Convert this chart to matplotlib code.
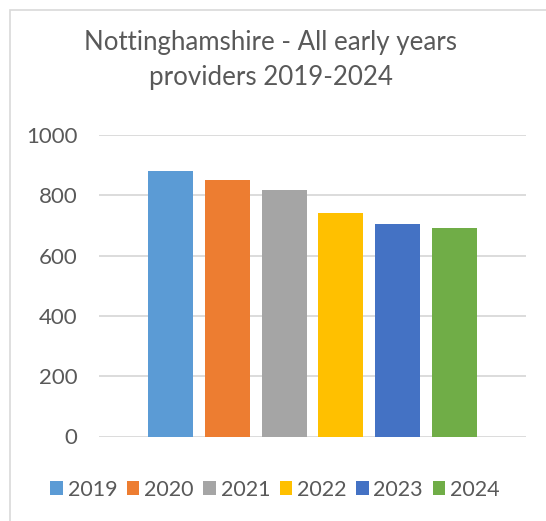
import matplotlib
matplotlib.use("Agg")
import matplotlib.pyplot as plt
from matplotlib.patches import Rectangle

years = ["2019", "2020", "2021", "2022", "2023", "2024"]
values = [881, 851, 818, 741, 705, 692]
colors = ["#5B9BD5", "#ED7D31", "#A5A5A5", "#FFC000", "#4472C4", "#70AD47"]
yticks = [0, 200, 400, 600, 800, 1000]
title = "Nottinghamshire - All early years\nproviders 2019-2024"

plt.rcParams['font.family'] = ['Lato', 'DejaVu Sans']
W, H = 546, 521
fig = plt.figure(figsize=(W / 100, H / 100), dpi=100)
ax = fig.add_axes([99 / W, 1 - 436.5 / H, 427 / W, (436.5 - 135) / H])

for i, (y, v, c) in enumerate(zip(years, values, colors)):
    ax.bar(i, v, width=0.79, color=c, label=y, zorder=3)

ax.set_xlim(-1.26, 6.26)
ax.set_ylim(0, 1000)
ax.set_yticks(yticks)
ax.set_yticklabels([str(t) for t in yticks])
ax.set_xticks([])
ax.grid(axis='y', color='#D9D9D9', linewidth=1.3, zorder=0)
for s in ax.spines.values():
    s.set_visible(False)
ax.tick_params(axis='y', length=0, pad=15.5, labelsize=16, labelcolor='#595959')

fig.text(271 / W, 1 - 85 / H, title, ha='center', va='baseline',
         fontsize=18.6, color='#595959', linespacing=1.5, multialignment='center')

leg = fig.legend(loc='center', bbox_to_anchor=(275 / W, 1 - 489.5 / H), ncol=6,
                 frameon=False, fontsize=15.5, labelcolor='#595959',
                 handlelength=0.58, handleheight=0.58, handletextpad=0.22,
                 columnspacing=0.45, borderaxespad=0, borderpad=0)

fig.add_artist(Rectangle((10 / W, -0.1), 1.2, 1.1 - 10 / H, transform=fig.transFigure,
                         fill=False, edgecolor='#D9D9D9', linewidth=1.2, clip_on=False))

fig.savefig("out.png", dpi=100)
